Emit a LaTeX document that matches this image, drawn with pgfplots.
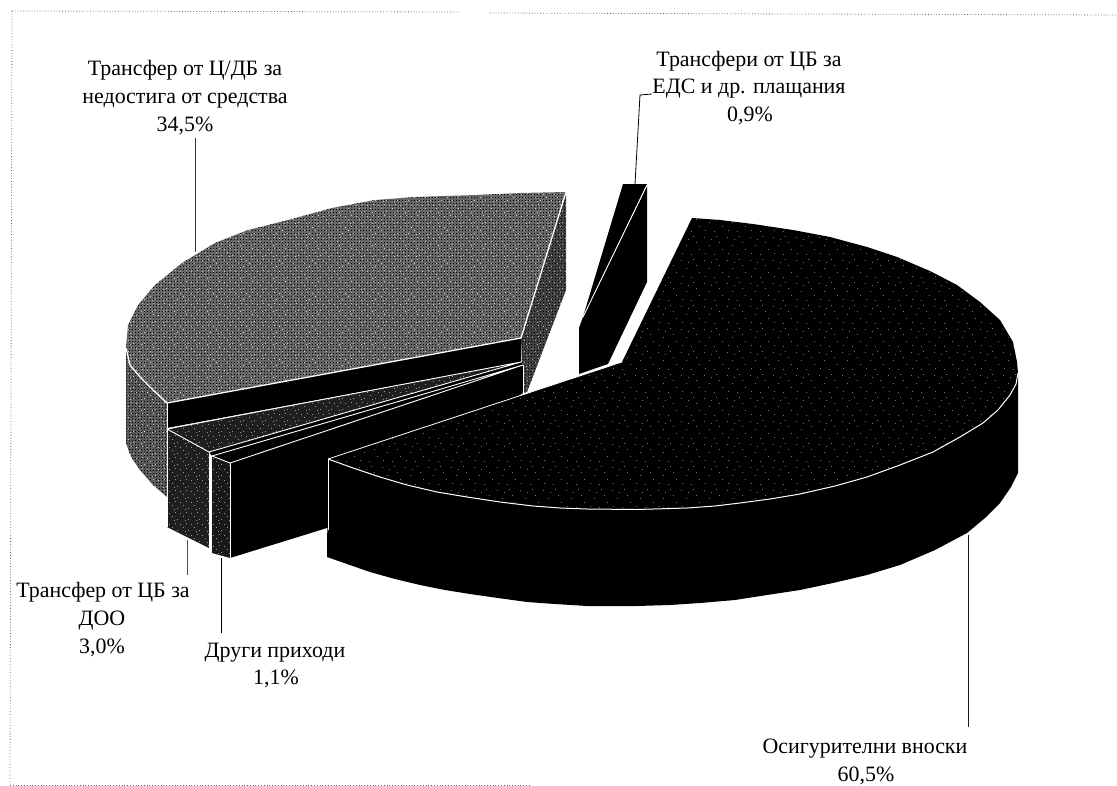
\documentclass[border=0pt]{standalone}
\usepackage{pgfplots}
\pgfplotsset{compat=1.18}
\usepackage{pgfplotstable}
\usepackage{fontspec}
\setmainfont{Liberation Serif}
\usetikzlibrary{patterns}
\newcommand{\dotat}[2]{\pgfpathrectangle{\pgfqpoint{#1bp}{#2bp}}{\pgfqpoint{0.9bp}{0.9bp}}}
\pgfdeclarepatternformonly{tinyA}{\pgfqpoint{-0.1bp}{-0.1bp}}{\pgfqpoint{3.1bp}{3.1bp}}{\pgfqpoint{3bp}{3bp}}{\pgfpathrectangle{\pgfqpoint{0bp}{0bp}}{\pgfqpoint{1bp}{1bp}}\pgfusepath{fill}}
\pgfdeclarepatternformonly{specks}{\pgfqpoint{-0.1bp}{-0.1bp}}{\pgfqpoint{23.1bp}{23.1bp}}{\pgfqpoint{23bp}{23bp}}{\dotat{1}{2}\dotat{6}{14}\dotat{9}{7}\dotat{14}{19}\dotat{15}{3}\dotat{19}{11}\dotat{3}{20}\dotat{21}{17}\pgfusepath{fill}}
\pgfdeclarepatternformonly{specksDense}{\pgfqpoint{-0.1bp}{-0.1bp}}{\pgfqpoint{11.1bp}{11.1bp}}{\pgfqpoint{11bp}{11bp}}{\dotat{1}{2}\dotat{4}{8}\dotat{7}{5}\dotat{9}{1}\dotat{10}{9}\pgfusepath{fill}}
\pgfplotstableread{
x y
566 192
520 193
477 195
445 196
415 197
375 200
332 208
288 220
248 230
215 243
182 263
155 285
138 305
128 325
126 348
130 365
140 377
153 390
167 403
521 338
}\grayTop
\pgfplotstableread{
x y
126 348
130 365
140 377
153 390
167 403
167 497
153 485
140 470
131 457
126 443
}\grayWall
\pgfplotstableread{
x y
521 338
566 192
566 290
527 392
522 393
522 362
}\graySide
\pgfplotstableread{
x y
167 403
521 338
521 362
167 428
}\grayInner
\pgfplotstableread{
x y
167 429
209 452
209 548
167 527
}\dooWall
\pgfplotstableread{
x y
167 429
521 362
209 452
}\dooTop
\pgfplotstableread{
x y
209 452
212 456
523 365
521 362
}\sliver
\pgfplotstableread{
x y
212 456
230 463
230 558
212 553
}\otherWall
\pgfplotstableread{
x y
212 456
523 365
230 463
}\otherTop
\pgfplotstableread{
x y
230 463
523 365
523 393
327 528
230 558
}\otherInner
\pgfplotstableread{
x y
328 459
353 468
380 477
407 485
437 492
467 497
500 502
533 506
560 508
587 509
637 509.5
687 508
715 506
740 503
770 499
800 494
835 486
867 477
900 465
933 452
960 437
983 423
998 410
1010 395
1016 384
1018 373
1018 473
1011 487
1000 503
985 518
967 533
935 550
900 565
867 575
833 583
800 590
767 595
735 600
700 603
670 605
637 606
587 606
555 604
527 602
498 598
470 594
445 590
420 585
395 579
370 572
347 564
327 557
}\mainWall
\pgfplotstableread{
x y
328 459
622 362
692 218
720 220
753 224
793 230
830 237
867 247
897 257
930 271
957 285
980 302
1000 320
1013 342
1017 362
1018 373
1016 384
1010 395
998 410
983 423
960 437
933 452
900 465
867 477
835 486
800 494
770 499
740 503
715 506
687 508
637 509.5
587 509
560 508
533 506
500 502
467 497
437 492
407 485
380 477
353 468
}\mainTop
\pgfplotstableread{
x y
623 184
647 184
583 317
}\smallTop
\pgfplotstableread{
x y
647 186
647 282
608 364
579 374
579 328
583 317
}\smallWall
\begin{document}
\begin{tikzpicture}
\useasboundingbox (0,0) rectangle (1117bp,786bp);
\begin{axis}[at={(0,0)},anchor=south west,scale only axis,width=1117bp,height=786bp,
 xmin=0,xmax=1117,ymin=0,ymax=786,y dir=reverse,hide axis,clip=false,no markers]
% frame
\addplot[dotted,gray!80!black,line width=0.8pt] coordinates {(12,11)(460,12)};
\addplot[dotted,gray!80!black,line width=0.8pt] coordinates {(490,13)(1117,15)};
\addplot[dotted,gray!80!black,line width=0.8pt] coordinates {(12,11)(10,785)};
\addplot[dotted,gray!80!black,line width=0.8pt] coordinates {(10,785)(530,785)};
% gray slice
\addplot[fill=black!65,draw=none] table[x=x,y=y] {\grayWall};
\addplot[pattern=tinyA,pattern color=black,draw=none] table[x=x,y=y] {\grayWall};
\addplot[pattern=specksDense,pattern color=white!80!black,draw=none] table[x=x,y=y] {\grayWall};
\addplot[fill=black!75,draw=none] table[x=x,y=y] {\graySide};
\addplot[pattern=tinyA,pattern color=black,draw=none] table[x=x,y=y] {\graySide};
\addplot[pattern=specksDense,pattern color=white!70!black,draw=none] table[x=x,y=y] {\graySide};
\addplot[fill=black!60,draw=none] table[x=x,y=y] {\grayTop};
\addplot[pattern=tinyA,pattern color=black,draw=none] table[x=x,y=y] {\grayTop};
\addplot[pattern=specksDense,pattern color=white!80!black,draw=none] table[x=x,y=y] {\grayTop};
\addplot[fill=black,draw=none] table[x=x,y=y] {\grayInner};
\addplot[white,line width=1.3pt] coordinates {(126,348)(130,365)(140,377)(153,390)(167,403)(521,338)(566,192)};
\addplot[white,line width=0.8pt] coordinates {(167,403)(167,428)};
% DOO slice
\addplot[fill=black!88,draw=none] table[x=x,y=y] {\dooWall};
\addplot[pattern=specksDense,pattern color=white!60!black,draw=none] table[x=x,y=y] {\dooWall};
\addplot[fill=black!88,draw=none] table[x=x,y=y] {\dooTop};
\addplot[pattern=specksDense,pattern color=white!60!black,draw=none] table[x=x,y=y] {\dooTop};
\addplot[fill=black,draw=none] table[x=x,y=y] {\sliver};
\addplot[white,line width=0.9pt] coordinates {(521,362)(167,429)(209,452)(521,362)};
\addplot[white,line width=0.8pt] coordinates {(167,429)(167,527)};
\addplot[white,line width=1.6pt] coordinates {(209.5,452)(209.5,548)};
% other slice
\addplot[fill=black,draw=none] table[x=x,y=y] {\otherInner};
\addplot[fill=black!90,draw=none] table[x=x,y=y] {\otherWall};
\addplot[pattern=specksDense,pattern color=white!60!black,draw=none] table[x=x,y=y] {\otherWall};
\addplot[fill=black,draw=none] table[x=x,y=y] {\otherTop};
\addplot[white,line width=0.9pt] coordinates {(523,365)(212,456)(230,463)(523,365)};
\addplot[white,line width=0.8pt] coordinates {(230,463)(230,558)};
\addplot[white,line width=0.8pt] coordinates {(523,365)(523,393)};
% main
\addplot[fill=black,draw=none] table[x=x,y=y] {\mainWall};
\addplot[fill=black,draw=none] table[x=x,y=y] {\mainTop};
\addplot[pattern=specks,pattern color=white!45!black,draw=none] table[x=x,y=y] {\mainTop};
\addplot[white,line width=1pt] coordinates {(328,459)(353,468)(380,477)(407,485)(437,492)(467,497)(500,502)(533,506)(560,508)(587,509)(637,509.5)(687,508)(715,506)(740,503)(770,499)(800,494)(835,486)(867,477)(900,465)(933,452)(960,437)(983,423)(998,410)(1010,395)(1016,384)(1018,373)};
\addplot[white,line width=0.8pt] coordinates {(328,459)(622,362)};
\addplot[white,line width=0.8pt] coordinates {(328,459)(328,530)};
% small slice
\addplot[fill=black,draw=none] table[x=x,y=y] {\smallWall};
\addplot[fill=black,draw=none] table[x=x,y=y] {\smallTop};
\addplot[white,line width=0.9pt] coordinates {(647,185)(583,317)};
% leaders
\addplot[black,line width=0.8pt] coordinates {(652,94)(640,95)(635,184)};
\addplot[black!80,line width=0.8pt] coordinates {(195,138)(195,252)};
\addplot[black!70,line width=0.8pt] coordinates {(187,540)(187,575)};
\addplot[black,line width=0.8pt] coordinates {(221,558)(221,633)};
\addplot[black!90,line width=0.7pt] coordinates {(968,535)(968,727)};
% text
\def\lab#1#2#3{\node[anchor=base,inner sep=0pt,font=\fontsize{22}{22}\selectfont] at (axis cs:#1,#2) {#3};}
\lab{185}{76}{Трансфер от Ц/ДБ за}
\lab{185}{104}{недостига от средства}
\lab{185}{132}{34,5\%}
\lab{749}{67}{Трансфери от ЦБ за}
\lab{749}{94}{ЕДС и др. плащания}
\lab{750}{122}{0,9\%}
\lab{103}{597}{Трансфер от ЦБ за}
\lab{102}{625}{ДОО}
\lab{102}{653}{3,0\%}
\lab{275}{657}{Други приходи}
\lab{276}{684}{1,1\%}
\lab{865}{753}{Осигурителни вноски}
\lab{866}{781}{60,5\%}
\end{axis}
\end{tikzpicture}
\end{document}
